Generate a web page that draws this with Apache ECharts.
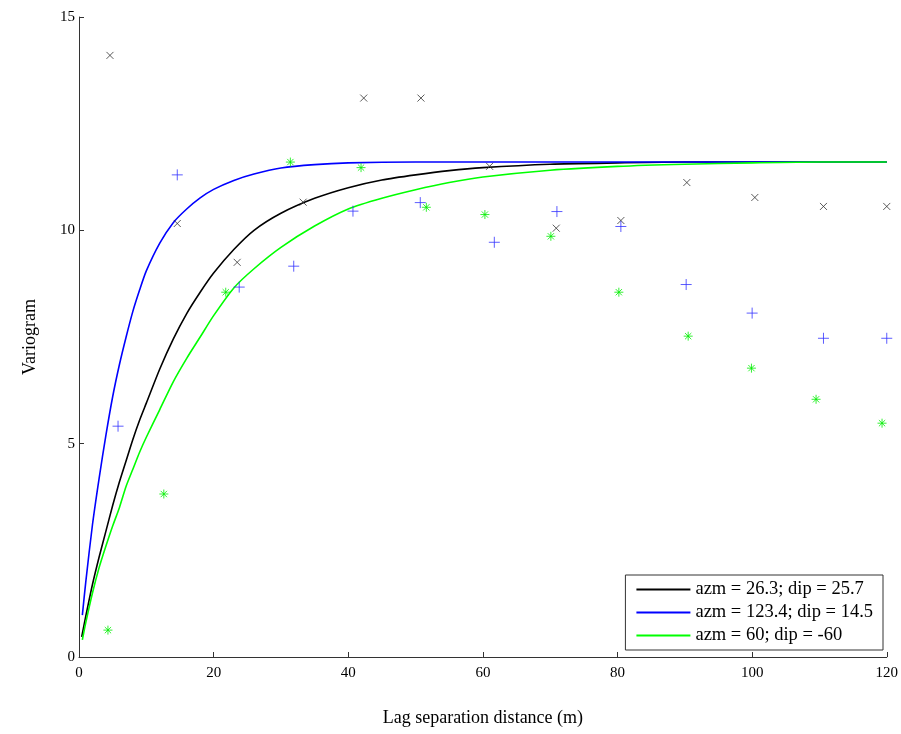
<!DOCTYPE html>
<html>
<head>
<meta charset="utf-8">
<script src="https://cdn.jsdelivr.net/npm/echarts@6/dist/echarts.min.js"></script>
<style>html,body{margin:0;padding:0;background:#fff}#c{width:901px;height:734px}</style>
</head>
<body>
<div id="c"></div>
<script>
var xTicks = [0, 20, 40, 60, 80, 100, 120];
var yTicks = [0, 5, 10, 15];
var seriesNames = ['azm = 26.3; dip = 25.7', 'azm = 123.4; dip = 14.5', 'azm = 60; dip = -60'];

// experimental variogram points (lag, value)
var blackPts = [[4.6,14.1],[14.6,10.16],[23.5,9.25],[33.3,10.66],[42.3,13.1],[50.8,13.1],[61,11.5],[70.9,10.05],[80.5,10.23],[90.3,11.12],[100.4,10.77],[110.6,10.56],[120,10.56]];
var bluePts = [[5.8,5.41],[14.6,11.3],[23.8,8.67],[31.9,9.16],[40.7,10.45],[50.7,10.65],[61.7,9.72],[71,10.44],[80.5,10.09],[90.2,8.73],[100,8.06],[110.6,7.47],[120,7.47]];
var greenPts = [[4.3,0.63],[12.6,3.82],[21.8,8.55],[31.4,11.6],[41.9,11.47],[51.6,10.54],[60.3,10.37],[70.1,9.86],[80.2,8.55],[90.5,7.52],[99.9,6.77],[109.5,6.04],[119.3,5.48]];

// fitted model curves
var blackCurve = [[0.4,0.47],[1,0.95],[2,1.7],[3,2.35],[4,2.95],[5,3.55],[6,4.1],[7,4.6],[8,5.1],[9,5.55],[10,5.95],[12,6.75],[14,7.45],[16,8.05],[18,8.55],[20,9.0],[23,9.55],[26,10.0],[30,10.4],[35,10.75],[40,11.0],[45,11.18],[50,11.3],[55,11.4],[60,11.47],[70,11.55],[80,11.58],[90,11.6],[100,11.6],[110,11.6],[120,11.6]];
var blueCurve = [[0.5,0.98],[1,1.75],[2,3.1],[3,4.2],[4,5.2],[5,6.1],[6,6.85],[7,7.5],[8,8.1],[9,8.6],[10,9.05],[12,9.7],[14,10.18],[16,10.5],[18,10.76],[20,10.96],[23,11.17],[26,11.32],[30,11.46],[35,11.54],[40,11.58],[50,11.6],[60,11.6],[70,11.6],[80,11.6],[90,11.6],[100,11.6],[110,11.6],[120,11.6]];
var greenCurve = [[0.5,0.4],[1,0.8],[2,1.5],[3,2.1],[4,2.6],[5,3.07],[6,3.5],[7,4.0],[8,4.4],[9,4.8],[10,5.15],[12,5.8],[14,6.45],[16,7.0],[18,7.5],[20,8.0],[23,8.65],[26,9.1],[30,9.6],[35,10.1],[40,10.5],[45,10.75],[50,10.95],[55,11.12],[60,11.25],[70,11.41],[80,11.5],[90,11.55],[100,11.58],[110,11.6],[120,11.6]];

var FONT = 'Liberation Serif';
var xSym = 'path://M0,0L10,10M10,0L0,10';
var plusSym = 'path://M5,0L5,10M0,5L10,5';
var starSym = 'path://M5,0L5,10M0,5L10,5M1.5,1.5L8.5,8.5M8.5,1.5L1.5,8.5';

function lineSeries(name, data, color) {
  return {
    name: name, type: 'line', data: data, smooth: 0.25,
    showSymbol: false, symbol: 'none',
    lineStyle: { color: color, width: 1.6 }, itemStyle: { color: color }, z: 3
  };
}
function scatterSeries(data, sym, size, color) {
  return {
    type: 'scatter', data: data, symbol: sym, symbolSize: size,
    itemStyle: { color: 'none', borderColor: color, borderWidth: 1 }, z: 4, silent: true
  };
}

var chart = echarts.init(document.getElementById('c'), null, { renderer: 'canvas' });
chart.setOption({
  animation: false,
  backgroundColor: '#fff',
  textStyle: { fontFamily: FONT },
  grid: { left: 79, right: 14, top: 17, bottom: 77 },
  xAxis: {
    type: 'value', min: 0, max: 120, interval: 20,
    name: 'Lag separation distance (m)', nameLocation: 'middle', nameGap: 52,
    nameTextStyle: { fontFamily: FONT, fontSize: 18, color: '#000' },
    axisLine: { lineStyle: { color: '#333', width: 1 } },
    axisTick: { inside: true, length: 5, lineStyle: { color: '#333' } },
    axisLabel: { fontFamily: FONT, fontSize: 15, color: '#000', margin: 9,
      formatter: function (v) { return xTicks.indexOf(v) >= 0 ? String(v) : ''; } },
    splitLine: { show: false }
  },
  yAxis: {
    type: 'value', min: 0, max: 15, interval: 5,
    name: 'Variogram', nameLocation: 'middle', nameGap: 40,
    nameTextStyle: { fontFamily: FONT, fontSize: 18, color: '#000' },
    axisLine: { show: true, lineStyle: { color: '#333', width: 1 } },
    axisTick: { show: true, inside: true, length: 5, lineStyle: { color: '#333' } },
    axisLabel: { fontFamily: FONT, fontSize: 15, color: '#000', margin: 4,
      formatter: function (v) { return yTicks.indexOf(v) >= 0 ? String(v) : ''; } },
    splitLine: { show: false }
  },
  legend: {
    data: seriesNames,
    orient: 'vertical', right: 18, bottom: 84,
    backgroundColor: '#fff', borderColor: '#333', borderWidth: 1,
    padding: [5, 10, 5, 11], itemGap: 4,
    icon: 'rect', itemWidth: 54, itemHeight: 2,
    textStyle: { fontFamily: FONT, fontSize: 18.5, color: '#000', lineHeight: 18 }
  },
  series: [
    lineSeries(seriesNames[0], blackCurve, '#000000'),
    lineSeries(seriesNames[1], blueCurve, '#0000ff'),
    lineSeries(seriesNames[2], greenCurve, '#00ff00'),
    scatterSeries(blackPts, xSym, 7, '#333333'),
    scatterSeries(bluePts, plusSym, 11, '#3333ff'),
    scatterSeries(greenPts, starSym, 9, '#00ee00')
  ]
});
</script>
</body>
</html>
